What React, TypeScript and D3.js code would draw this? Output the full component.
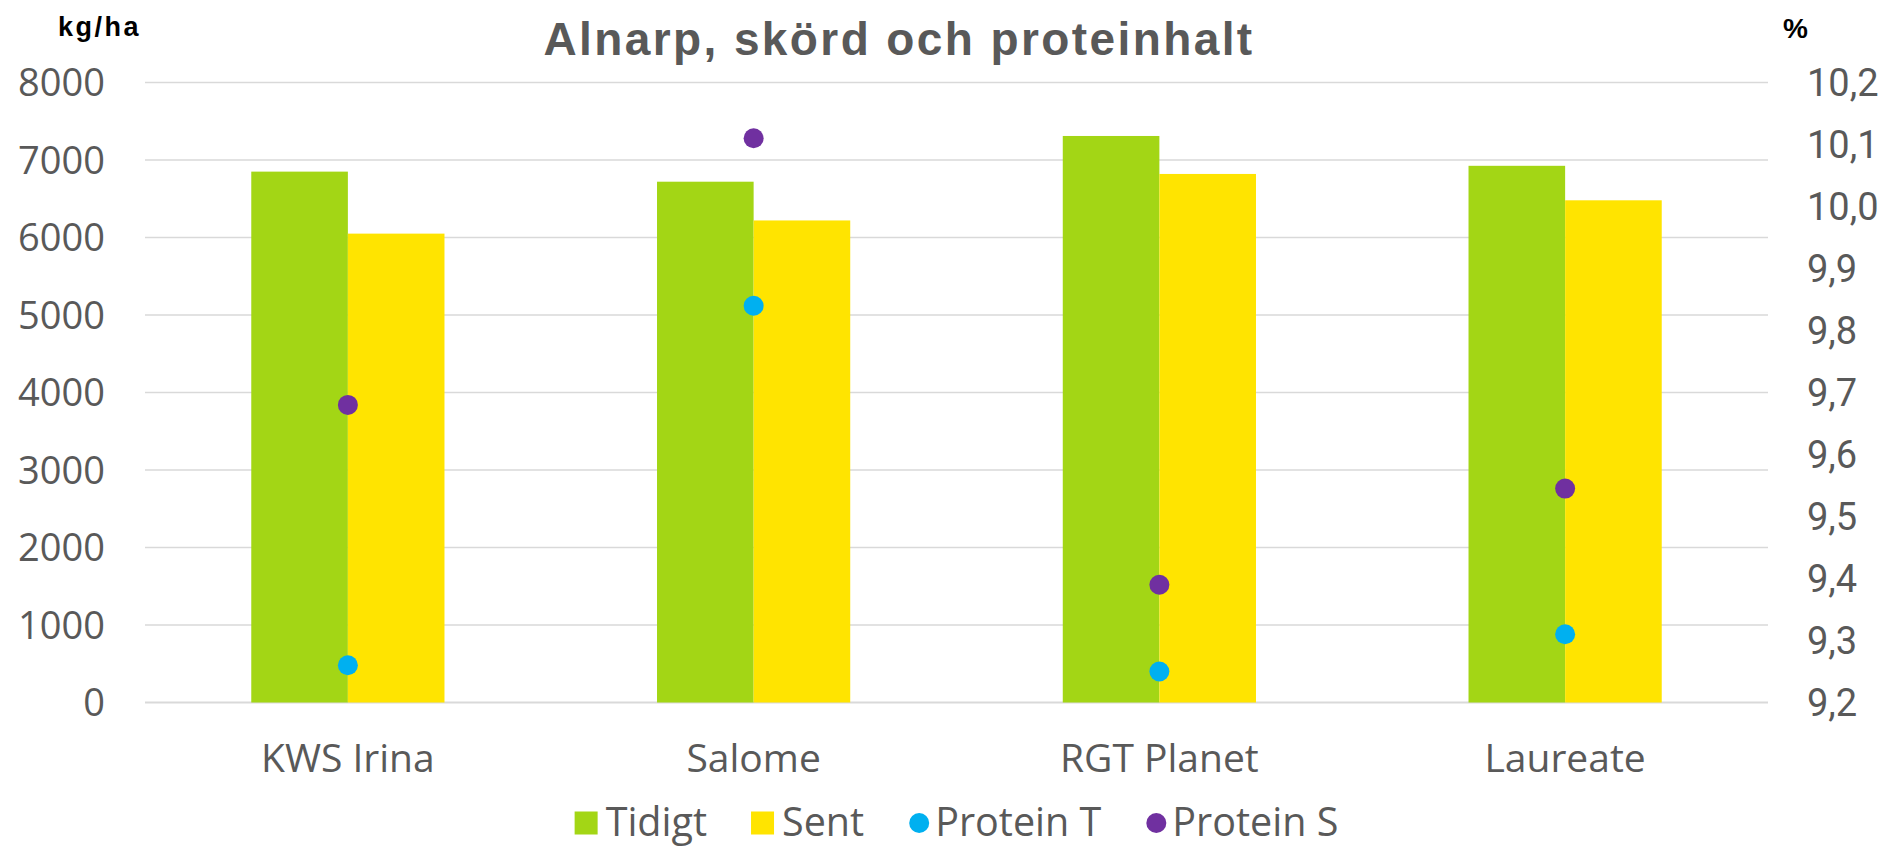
import React, { useEffect, useRef } from "react";
import * as d3 from "d3";

// sorter och serier
const categories = ["KWS Irina", "Salome", "RGT Planet", "Laureate"];
const tidigt = [6850, 6720, 7310, 6925];
const sent = [6050, 6220, 6820, 6480];
const proteinT = [9.26, 9.84, 9.25, 9.31];
const proteinS = [9.68, 10.11, 9.39, 9.545];

const leftTicks = [0, 1000, 2000, 3000, 4000, 5000, 6000, 7000, 8000];
const rightTicks = [9.2, 9.3, 9.4, 9.5, 9.6, 9.7, 9.8, 9.9, 10.0, 10.1, 10.2];

const legendItems = [
  { name: "Tidigt", color: "#A3D615", shape: "rect" },
  { name: "Sent", color: "#FFE400", shape: "rect" },
  { name: "Protein T", color: "#00B0F0", shape: "circle" },
  { name: "Protein S", color: "#7030A0", shape: "circle" },
];

const width = 1892;
const height = 847;
const marginLeft = 145;
const marginRight = 124;
const plotTop = 82.5;
const plotBottom = 702.5;

const textColor = "#595959";
const gridColor = "#D9D9D9";
const labelFont = "'Open Sans', 'Noto Sans', sans-serif";

export default function App() {
  const svgRef = useRef<SVGSVGElement>(null);

  useEffect(() => {
    const svg = d3.select(svgRef.current);
    svg.selectAll("*").remove();

    const x = d3.scaleBand().domain(categories).range([marginLeft, width - marginRight]);
    const bw = x.bandwidth();
    const groupW = bw / 2.1; // gap width 110%
    const xSub = d3
      .scaleBand()
      .domain(["Tidigt", "Sent"])
      .range([bw / 2 - groupW / 2, bw / 2 + groupW / 2]);

    const yL = d3.scaleLinear().domain([0, 8000]).range([plotBottom, plotTop]);
    const yR = d3.scaleLinear().domain([9.2, 10.2]).range([plotBottom, plotTop]);

    // gridlines
    svg.append("g")
      .selectAll("line")
      .data(leftTicks)
      .join("line")
      .attr("x1", marginLeft)
      .attr("x2", width - marginRight)
      .attr("y1", (d) => yL(d))
      .attr("y2", (d) => yL(d))
      .attr("stroke", gridColor)
      .attr("stroke-width", (d) => (d === 0 ? 2 : 1.3));

    // bars
    const groups = svg.append("g")
      .selectAll("g")
      .data(categories)
      .join("g")
      .attr("transform", (d) => `translate(${x(d)},0)`);

    groups.append("rect")
      .attr("x", xSub("Tidigt")!)
      .attr("width", xSub.bandwidth())
      .attr("y", (d, i) => yL(tidigt[i]))
      .attr("height", (d, i) => yL(0) - yL(tidigt[i]))
      .attr("fill", legendItems[0].color);

    groups.append("rect")
      .attr("x", xSub("Sent")!)
      .attr("width", xSub.bandwidth())
      .attr("y", (d, i) => yL(sent[i]))
      .attr("height", (d, i) => yL(0) - yL(sent[i]))
      .attr("fill", legendItems[1].color);

    // protein dots on right axis
    svg.append("g")
      .selectAll("circle")
      .data(categories)
      .join("circle")
      .attr("cx", (d) => x(d)! + bw / 2)
      .attr("cy", (d, i) => yR(proteinT[i]))
      .attr("r", 10)
      .attr("fill", legendItems[2].color);

    svg.append("g")
      .selectAll("circle")
      .data(categories)
      .join("circle")
      .attr("cx", (d) => x(d)! + bw / 2)
      .attr("cy", (d, i) => yR(proteinS[i]))
      .attr("r", 10)
      .attr("fill", legendItems[3].color);

    // left axis labels
    svg.append("g")
      .selectAll("text")
      .data(leftTicks)
      .join("text")
      .attr("x", 105)
      .attr("y", (d) => yL(d))
      .attr("dy", "0.36em")
      .attr("text-anchor", "end")
      .attr("font-family", labelFont)
      .attr("font-size", 38)
      .attr("fill", textColor)
      .text((d) => d);

    // right axis labels
    const fmt = d3.format(".1f");
    svg.append("g")
      .selectAll("text")
      .data(rightTicks)
      .join("text")
      .attr("x", 1807)
      .attr("y", (d) => yR(d))
      .attr("dy", "0.36em")
      .attr("font-family", "Roboto, sans-serif")
      .attr("font-size", 38)
      .attr("fill", textColor)
      .text((d) => fmt(d).replace(".", ","));

    // category labels
    svg.append("g")
      .selectAll("text")
      .data(categories)
      .join("text")
      .attr("x", (d) => x(d)! + bw / 2)
      .attr("y", 772)
      .attr("text-anchor", "middle")
      .attr("font-family", labelFont)
      .attr("font-size", 39)
      .attr("fill", textColor)
      .text((d) => d);

    // title and unit labels
    svg.append("text")
      .attr("x", 899)
      .attr("y", 55)
      .attr("text-anchor", "middle")
      .attr("font-family", "'Liberation Sans', Arial, sans-serif")
      .attr("font-weight", "bold")
      .attr("font-size", 46)
      .attr("letter-spacing", 2.4)
      .attr("fill", textColor)
      .text("Alnarp, skörd och proteinhalt");

    svg.append("text")
      .attr("x", 58)
      .attr("y", 36)
      .attr("font-family", "'Liberation Sans', Arial, sans-serif")
      .attr("font-weight", "bold")
      .attr("font-size", 27)
      .attr("letter-spacing", 2.5)
      .attr("fill", "#000")
      .text("kg/ha");

    svg.append("text")
      .attr("x", 1783)
      .attr("y", 38)
      .attr("font-family", "'Liberation Sans', Arial, sans-serif")
      .attr("font-weight", "bold")
      .attr("font-size", 28)
      .attr("fill", "#000")
      .text("%");

    // legend, laid out by measured text widths and centred on the plot
    const legend = svg.append("g");
    let cursor = 0;
    legendItems.forEach((item, i) => {
      const g = legend.append("g").attr("transform", `translate(${cursor},0)`);
      if (item.shape === "rect") {
        g.append("rect").attr("x", 0).attr("y", -11.5).attr("width", 23).attr("height", 23).attr("fill", item.color);
      } else {
        g.append("circle").attr("cx", 11).attr("cy", 0).attr("r", 10).attr("fill", item.color);
      }
      const t = g.append("text")
        .attr("x", item.shape === "rect" ? 31 : 27)
        .attr("y", 0)
        .attr("dy", "0.34em")
        .attr("font-family", labelFont)
        .attr("font-size", 39.5)
        .attr("fill", textColor)
        .text(item.name);
      const tw = (t.node() as SVGTextElement).getComputedTextLength();
      cursor += (item.shape === "rect" ? 31 : 27) + tw + (i < legendItems.length - 1 ? 44 : 0);
    });
    const center = marginLeft + (width - marginRight - marginLeft) / 2;
    legend.attr("transform", `translate(${center - cursor / 2},823)`);
  }, []);

  return (
    <svg
      ref={svgRef}
      width={width}
      height={height}
      style={{ position: "absolute", left: 0, top: 0, background: "#fff" }}
    />
  );
}
